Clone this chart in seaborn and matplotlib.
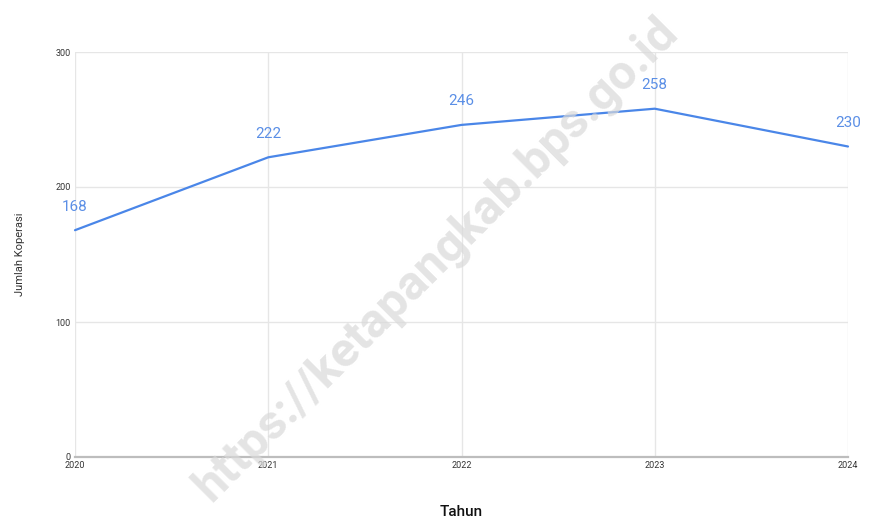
import matplotlib
matplotlib.use("Agg")
import matplotlib.pyplot as plt
import seaborn as sns
import pandas as pd

years = [2020, 2021, 2022, 2023, 2024]
jumlah = [168, 222, 246, 258, 230]
y_ticks = [0, 100, 200, 300]

df = pd.DataFrame({"Tahun": years, "Jumlah Koperasi": jumlah})

sns.set_style("white")
plt.rcParams["font.family"] = ["Roboto", "DejaVu Sans"]

fig = plt.figure(figsize=(8.7, 5.26), dpi=100)
ax = fig.add_axes([75/870, 1-457/526, (848-75)/870, (457-52)/526])

sns.lineplot(data=df, x="Tahun", y="Jumlah Koperasi", ax=ax, color="#4a86e8",
             linewidth=1.6, clip_on=False)

for x, y in zip(years, jumlah):
    ax.annotate(str(y), (x, y), xytext=(0, 12), textcoords="offset points",
                ha="center", va="bottom", color="#5b8fe6", fontsize=11)

ax.set_xlim(years[0], years[-1])
ax.set_ylim(0, 300)
ax.set_xticks(years)
ax.set_xticklabels([str(y) for y in years])
ax.set_yticks(y_ticks)
ax.grid(True, color="#e6e6e6", linewidth=1)
ax.set_axisbelow(True)
for s in ["top", "right", "left"]:
    ax.spines[s].set_visible(False)
ax.spines["bottom"].set_color("#bdbdbd")
ax.spines["bottom"].set_linewidth(1.6)
ax.tick_params(axis="both", length=0, labelsize=6.5, colors="#333333")
ax.tick_params(axis="x", pad=3)
ax.tick_params(axis="y", pad=3)

ax.set_xlabel("Tahun", fontsize=11, fontweight="medium", color="#111111", labelpad=25)
ax.set_ylabel("Jumlah Koperasi", fontsize=8, color="#333333", labelpad=22)

fig.text(0.502, 0.506, "https://ketapangkab.bps.go.id", rotation=45,
         ha="center", va="center", fontsize=35, fontweight="bold",
         color="#d9d9d9", alpha=0.7, zorder=10)

fig.savefig("out.png", dpi=100, facecolor="white")
